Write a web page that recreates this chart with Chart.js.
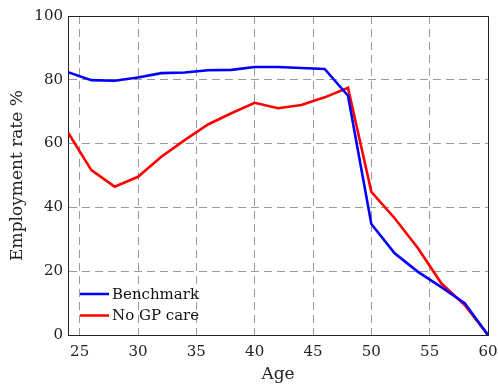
<!DOCTYPE html>
<html>
<head>
<meta charset="utf-8">
<script src="https://cdn.jsdelivr.net/npm/chart.js@4"></script>
<style>
  html, body { margin: 0; padding: 0; background: #fff; }
  #wrap { width: 498px; height: 386px; }
</style>
</head>
<body>
<div id="wrap"><canvas id="empChart" width="498" height="386"></canvas></div>
<script>
// ages on the x axis (every two years)
const ages = [24, 26, 28, 30, 32, 34, 36, 38, 40, 42, 44, 46, 48, 50, 52, 54, 56, 58, 60];

// employment rate, %
const benchmark = [82.4, 79.9, 79.7, 80.7, 82.1, 82.3, 83.0, 83.1, 84.0, 84.0, 83.7, 83.4, 75.0, 34.8, 25.6, 19.8, 15.0, 10.0, 0];
const noGpCare  = [63.5, 51.7, 46.5, 49.6, 55.9, 61.1, 66.0, 69.5, 72.8, 71.1, 72.1, 74.5, 77.5, 44.9, 36.6, 27.2, 16.2, 9.4, 0];

// tick labels
const xTicks = [25, 30, 35, 40, 45, 50, 55, 60];
const yTicks = [0, 20, 40, 60, 80, 100];

const serif = "'DejaVu Serif', 'Liberation Serif', serif";
const axisColor = "#222";
const gridColor = "#999";

function toPoints(ys) {
  return ages.map((a, i) => ({ x: a, y: ys[i] }));
}

// box around the plot (top and right edges)
const frame = {
  id: "frame",
  afterDraw(chart) {
    const { ctx, chartArea: a } = chart;
    ctx.save();
    ctx.strokeStyle = axisColor;
    ctx.lineWidth = 1;
    ctx.beginPath();
    ctx.moveTo(a.left, a.top + 0.5);
    ctx.lineTo(a.right + 0.5, a.top + 0.5);
    ctx.lineTo(a.right + 0.5, a.bottom);
    ctx.stroke();
    ctx.restore();
  }
};

// legend inside the plot, lower left, no box
const innerLegend = {
  id: "innerLegend",
  afterDatasetsDraw(chart) {
    const { ctx, chartArea: a } = chart;
    ctx.save();
    ctx.font = "15px " + serif;
    ctx.textBaseline = "middle";
    chart.data.datasets.forEach((ds, i) => {
      const y = 294 + i * 21.5;
      ctx.strokeStyle = ds.borderColor;
      ctx.lineWidth = 2.5;
      ctx.beginPath();
      ctx.moveTo(a.left + 12, y);
      ctx.lineTo(a.left + 41, y);
      ctx.stroke();
      ctx.fillStyle = "#111";
      ctx.fillText(ds.label, a.left + 44, y + 1);
    });
    ctx.restore();
  }
};

new Chart(document.getElementById("empChart").getContext("2d"), {
  type: "line",
  data: {
    datasets: [
      {
        label: "Benchmark",
        data: toPoints(benchmark),
        borderColor: "#0000ff",
        borderWidth: 2.6,
        pointRadius: 0,
        tension: 0
      },
      {
        label: "No GP care",
        data: toPoints(noGpCare),
        borderColor: "#ff0000",
        borderWidth: 2.6,
        pointRadius: 0,
        tension: 0
      }
    ]
  },
  options: {
    responsive: false,
    animation: false,
    layout: { padding: { top: 16, right: 10, left: 0, bottom: 0 } },
    plugins: {
      legend: { display: false },
      tooltip: { enabled: false }
    },
    scales: {
      x: {
        type: "linear",
        min: 24,
        max: 60,
        afterBuildTicks(scale) {
          scale.ticks = xTicks.map(v => ({ value: v }));
        },
        afterFit(scale) {
          scale.height = 51;
          scale.paddingLeft = 0;
          scale.paddingRight = 0;
        },
        grid: { color: gridColor, lineWidth: 1, drawTicks: false },
        border: { color: axisColor, width: 1, dash: [8, 5] },
        ticks: {
          color: "#222",
          padding: 8,
          maxRotation: 0,
          font: { family: serif, size: 15 }
        },
        title: {
          display: true,
          text: "Age",
          color: "#222",
          padding: { top: 0, bottom: 1 },
          font: { family: serif, size: 17 }
        }
      },
      y: {
        min: 0,
        max: 100,
        afterBuildTicks(scale) {
          scale.ticks = yTicks.map(v => ({ value: v }));
        },
        afterFit(scale) {
          scale.width = 68;
          scale.paddingTop = 0;
          scale.paddingBottom = 0;
        },
        grid: { color: gridColor, lineWidth: 1, drawTicks: false },
        border: { color: axisColor, width: 1, dash: [8, 5] },
        ticks: {
          color: "#222",
          padding: 5,
          font: { family: serif, size: 15 }
        },
        title: {
          display: true,
          text: "Employment rate %",
          color: "#222",
          padding: { top: 7, bottom: 0 },
          font: { family: serif, size: 17 }
        }
      }
    }
  },
  plugins: [frame, innerLegend]
});
</script>
</body>
</html>
